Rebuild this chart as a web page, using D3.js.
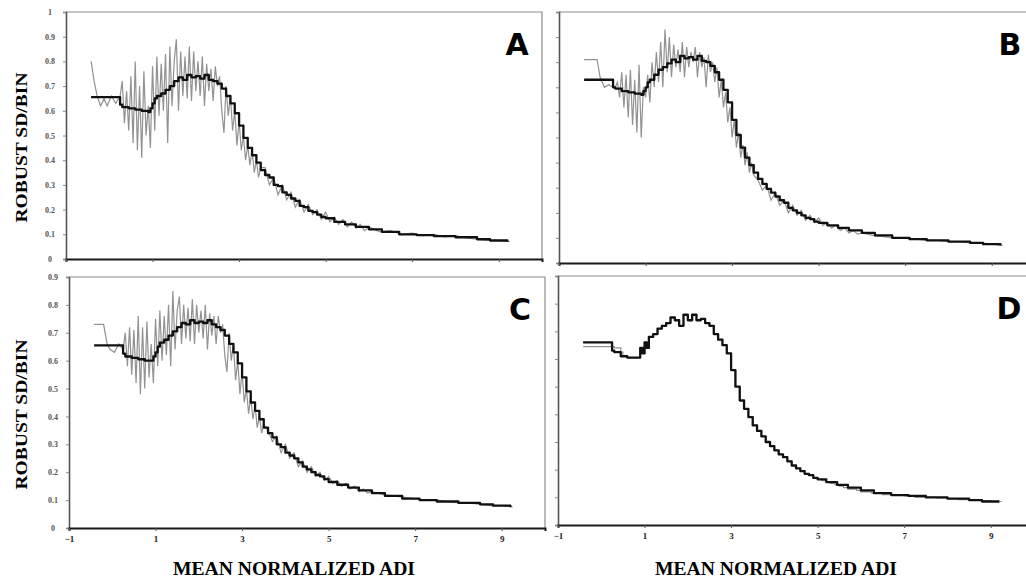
<!DOCTYPE html>
<html>
<head>
<meta charset="utf-8">
<script src="https://cdn.jsdelivr.net/npm/d3@7"></script>
<style>
  body { margin: 0; background: #fff; }
  svg { display: block; }
</style>
</head>
<body>
<div id="chart"></div>
<script>
// gray (raw) series x positions
const grayX = [-0.42, -0.35, -0.28, -0.2, -0.12, -0.05, 0.05, 0.15, 0.25,
  0.30, 0.35, 0.40, 0.45, 0.50, 0.55, 0.60, 0.65, 0.70, 0.75, 0.80, 0.85, 0.90, 0.95, 1.00,
  1.05, 1.10, 1.15, 1.20, 1.25, 1.30, 1.35, 1.40, 1.45, 1.50, 1.55, 1.60, 1.65, 1.70, 1.75,
  1.80, 1.85, 1.90, 1.95, 2.00, 2.05, 2.10, 2.15, 2.20, 2.25, 2.30, 2.35, 2.40, 2.45, 2.50,
  2.55, 2.60, 2.65, 2.70, 2.75, 2.80, 2.85, 2.90, 2.95, 3.00, 3.05, 3.10, 3.15, 3.20, 3.25,
  3.30, 3.35, 3.40, 3.45, 3.50,
  3.6, 3.7, 3.8, 3.9, 4.0, 4.1, 4.2, 4.3, 4.4, 4.5, 4.6, 4.7, 4.8, 4.9, 5.0,
  5.1, 5.2, 5.3, 5.4, 5.5, 5.6, 5.7, 5.8, 5.9, 6.0,
  6.25, 6.5, 6.75, 7.0, 7.25, 7.5, 7.75, 8.0, 8.25, 8.5, 8.75, 9.0, 9.25];

const grayA = [0.80, 0.72, 0.66, 0.62, 0.65, 0.62, 0.66, 0.63, 0.66,
  0.72, 0.55, 0.68, 0.52, 0.74, 0.47, 0.80, 0.44, 0.70, 0.41, 0.76, 0.50, 0.62, 0.45, 0.78,
  0.52, 0.82, 0.58, 0.79, 0.60, 0.83, 0.47, 0.86, 0.62, 0.80, 0.89, 0.60, 0.84, 0.66, 0.82,
  0.65, 0.86, 0.64, 0.84, 0.68, 0.80, 0.66, 0.82, 0.62, 0.79, 0.68, 0.77, 0.64, 0.78, 0.70,
  0.74, 0.60, 0.51, 0.70, 0.58, 0.66, 0.52, 0.60, 0.46, 0.56, 0.44, 0.50, 0.40, 0.46, 0.38,
  0.44, 0.35, 0.40, 0.33, 0.37,
  0.37, 0.30, 0.33, 0.26, 0.30, 0.24, 0.27, 0.21, 0.24, 0.19, 0.22, 0.18, 0.20, 0.16, 0.19,
  0.15, 0.17, 0.14, 0.16, 0.13, 0.15, 0.125, 0.14, 0.115, 0.13,
  0.11, 0.115, 0.10, 0.105, 0.095, 0.10, 0.09, 0.095, 0.085, 0.08, 0.075, 0.075, 0.07];

const grayB = [0.81, 0.81, 0.81, 0.81, 0.81, 0.74, 0.70, 0.71, 0.70,
  0.70, 0.72, 0.66, 0.76, 0.62, 0.75, 0.58, 0.77, 0.55, 0.73, 0.52, 0.79, 0.50, 0.70, 0.66,
  0.75, 0.64, 0.80, 0.70, 0.84, 0.72, 0.88, 0.70, 0.93, 0.76, 0.90, 0.74, 0.87, 0.78, 0.85,
  0.76, 0.88, 0.74, 0.86, 0.78, 0.84, 0.80, 0.86, 0.74, 0.84, 0.78, 0.82, 0.70, 0.83, 0.76,
  0.80, 0.72, 0.78, 0.66, 0.73, 0.62, 0.68, 0.56, 0.62, 0.50, 0.57, 0.46, 0.52, 0.42, 0.47,
  0.39, 0.44, 0.36, 0.40, 0.35,
  0.33, 0.29, 0.31, 0.25, 0.28, 0.23, 0.25, 0.20, 0.23, 0.19, 0.21, 0.17, 0.19, 0.16, 0.18,
  0.15, 0.16, 0.14, 0.15, 0.13, 0.14, 0.12, 0.13, 0.115, 0.12,
  0.11, 0.105, 0.10, 0.10, 0.095, 0.09, 0.09, 0.085, 0.085, 0.08, 0.08, 0.075, 0.07];

const grayC = [0.73, 0.73, 0.73, 0.73, 0.66, 0.64, 0.63, 0.66, 0.64,
  0.70, 0.58, 0.72, 0.55, 0.71, 0.52, 0.76, 0.48, 0.72, 0.50, 0.74, 0.54, 0.66, 0.52, 0.75,
  0.58, 0.78, 0.60, 0.76, 0.62, 0.80, 0.58, 0.85, 0.64, 0.78, 0.83, 0.66, 0.80, 0.68, 0.79,
  0.67, 0.82, 0.66, 0.80, 0.70, 0.78, 0.68, 0.80, 0.64, 0.77, 0.69, 0.76, 0.66, 0.76, 0.70,
  0.73, 0.62, 0.56, 0.70, 0.60, 0.66, 0.53, 0.60, 0.48, 0.56, 0.45, 0.50, 0.41, 0.47, 0.39,
  0.44, 0.36, 0.40, 0.34, 0.37,
  0.35, 0.31, 0.33, 0.27, 0.30, 0.25, 0.27, 0.22, 0.24, 0.20, 0.22, 0.185, 0.20, 0.17, 0.185,
  0.16, 0.17, 0.15, 0.16, 0.14, 0.15, 0.13, 0.14, 0.125, 0.13,
  0.12, 0.115, 0.11, 0.105, 0.10, 0.10, 0.095, 0.09, 0.09, 0.085, 0.08, 0.08, 0.075];

const grayD = [0.645, 0.645, 0.645, 0.645, 0.645, 0.645, 0.645, 0.645, 0.645,
  0.64, 0.64, 0.64, 0.625, 0.61, 0.61, 0.605, 0.605, 0.605, 0.605, 0.605, 0.605, 0.64, 0.62, 0.66,
  0.64, 0.68, 0.68, 0.69, 0.69, 0.71, 0.71, 0.72, 0.72, 0.73, 0.73, 0.75, 0.75, 0.74, 0.74,
  0.72, 0.72, 0.76, 0.76, 0.74, 0.74, 0.76, 0.76, 0.74, 0.74, 0.745, 0.745, 0.73, 0.73, 0.72,
  0.72, 0.69, 0.69, 0.67, 0.67, 0.65, 0.65, 0.62, 0.62, 0.56, 0.56, 0.50, 0.50, 0.45, 0.45,
  0.42, 0.42, 0.39, 0.39, 0.36,
  0.34, 0.32, 0.30, 0.285, 0.27, 0.255, 0.245, 0.23, 0.215, 0.205, 0.195, 0.185, 0.18, 0.17, 0.165,
  0.16, 0.155, 0.15, 0.145, 0.14, 0.135, 0.13, 0.13, 0.125, 0.12,
  0.115, 0.11, 0.108, 0.105, 0.10, 0.10, 0.098, 0.095, 0.092, 0.09, 0.088, 0.085, 0.085];

// smoothed (black) series, step after each x
const blackX = [-0.42, 0.25, 0.3, 0.45, 0.6, 0.75, 0.9, 0.95, 1.0, 1.05, 1.1, 1.2, 1.3, 1.4,
  1.5, 1.6, 1.7, 1.8, 1.9, 2.0, 2.1, 2.2, 2.3, 2.4, 2.5, 2.6, 2.7, 2.8, 2.9, 3.0, 3.1, 3.2,
  3.3, 3.4, 3.5, 3.6, 3.7, 3.8, 3.9, 4.0, 4.1, 4.2, 4.3, 4.4, 4.5, 4.6, 4.7, 4.8, 4.9, 5.0,
  5.2, 5.45, 5.7, 6.0, 6.3, 6.7, 7.1, 7.5, 8.0, 8.5, 8.8, 9.2];

const blackA = [0.655, 0.625, 0.615, 0.61, 0.605, 0.60, 0.595, 0.61, 0.63, 0.65, 0.66, 0.67,
  0.685, 0.70, 0.72, 0.735, 0.725, 0.745, 0.735, 0.74, 0.73, 0.745, 0.725, 0.72, 0.71, 0.69,
  0.66, 0.63, 0.59, 0.54, 0.49, 0.45, 0.42, 0.39, 0.36,
  0.34, 0.33, 0.30, 0.295, 0.27, 0.26, 0.245, 0.235, 0.215, 0.21, 0.195, 0.19, 0.18, 0.17, 0.165,
  0.15, 0.14, 0.13, 0.12, 0.11, 0.10, 0.097, 0.093, 0.088, 0.08, 0.075, 0.07];

const blackB = [0.73, 0.70, 0.695, 0.685, 0.68, 0.675, 0.67, 0.685, 0.70, 0.72, 0.73, 0.75,
  0.77, 0.78, 0.795, 0.81, 0.80, 0.825, 0.815, 0.82, 0.81, 0.825, 0.805, 0.80, 0.785, 0.76,
  0.73, 0.69, 0.64, 0.57, 0.51, 0.46, 0.42, 0.39, 0.36,
  0.335, 0.315, 0.295, 0.28, 0.265, 0.25, 0.24, 0.22, 0.21, 0.20, 0.19, 0.18, 0.175, 0.165, 0.16,
  0.15, 0.14, 0.13, 0.12, 0.11, 0.10, 0.095, 0.09, 0.085, 0.08, 0.075, 0.07];

const blackC = [0.655, 0.625, 0.615, 0.61, 0.605, 0.60, 0.60, 0.615, 0.63, 0.65, 0.665, 0.675,
  0.69, 0.705, 0.72, 0.735, 0.73, 0.745, 0.735, 0.74, 0.735, 0.745, 0.73, 0.72, 0.71, 0.69,
  0.66, 0.63, 0.59, 0.54, 0.49, 0.45, 0.42, 0.39, 0.36,
  0.34, 0.325, 0.30, 0.29, 0.27, 0.26, 0.25, 0.235, 0.22, 0.21, 0.20, 0.19, 0.185, 0.175, 0.165,
  0.155, 0.145, 0.135, 0.125, 0.115, 0.105, 0.10, 0.095, 0.09, 0.085, 0.08, 0.075];

const blackD = [0.66, 0.63, 0.625, 0.61, 0.605, 0.605, 0.64, 0.62, 0.66, 0.64, 0.68, 0.69,
  0.71, 0.72, 0.73, 0.75, 0.74, 0.72, 0.76, 0.74, 0.76, 0.74, 0.745, 0.73, 0.72, 0.69,
  0.67, 0.65, 0.62, 0.56, 0.50, 0.45, 0.42, 0.39, 0.36,
  0.34, 0.32, 0.30, 0.285, 0.27, 0.255, 0.245, 0.23, 0.215, 0.205, 0.195, 0.185, 0.18, 0.17, 0.165,
  0.155, 0.145, 0.135, 0.125, 0.115, 0.108, 0.105, 0.10, 0.095, 0.09, 0.085, 0.085];

const xTicks = [-1, 1, 3, 5, 7, 9];
const yTicksA = [0, 0.1, 0.2, 0.3, 0.4, 0.5, 0.6, 0.7, 0.8, 0.9, 1];
const yTicksC = [0, 0.1, 0.2, 0.3, 0.4, 0.5, 0.6, 0.7, 0.8, 0.9];
const yTitle = "ROBUST SD/BIN";
const xTitle = "MEAN NORMALIZED ADI";

const W = 1026, H = 578;

const panels = [
  { name: "A", left: 66, right: 542, top: 12, bottom: 259, ymax: 1, yTicks: yTicksA, gray: grayA, black: blackA, grayStep: false, yLab: true, xLab: false },
  { name: "B", left: 559, right: 1035, top: 12, bottom: 263, ymax: 1, yTicks: yTicksA, gray: grayB, black: blackB, grayStep: false, yLab: false, xLab: false },
  { name: "C", left: 69, right: 545, top: 277, bottom: 528, ymax: 0.9, yTicks: yTicksC, gray: grayC, black: blackC, grayStep: false, yLab: true, xLab: true, titleX: 294 },
  { name: "D", left: 558, right: 1034, top: 276, bottom: 525, ymax: 0.9, yTicks: yTicksC, gray: grayD, black: blackD, grayStep: true, yLab: false, xLab: true, titleX: 776 }
];

const svg = d3.select("#chart").append("svg")
  .attr("width", W)
  .attr("height", H);

panels.forEach(function (p) {
  const x = d3.scaleLinear().domain([-1, 10]).range([p.left, p.right]);
  const y = d3.scaleLinear().domain([0, p.ymax]).range([p.bottom, p.top]);

  const g = svg.append("g").attr("class", "panel panel-" + p.name);

  // frame top / right (gray)
  g.append("path")
    .attr("d", "M" + p.left + "," + p.top + "H" + p.right + "V" + p.bottom)
    .attr("fill", "none")
    .attr("stroke", "#8c8c8c")
    .attr("stroke-width", 1.2);

  // y axis
  const yAxis = d3.axisLeft(y)
    .tickValues(p.yTicks)
    .tickSize(3)
    .tickPadding(8)
    .tickFormat(p.yLab ? d3.format("~g") : function () { return ""; });
  const ya = g.append("g")
    .attr("transform", "translate(" + p.left + ",0)")
    .call(yAxis);
  ya.select(".domain").attr("stroke", "#555").attr("stroke-width", 1.6);
  ya.selectAll(".tick line").attr("stroke", "#888");
  ya.selectAll(".tick text")
    .attr("font-size", 8)
    .attr("font-family", "'Liberation Serif', serif")
    .attr("font-weight", "bold")
    .attr("fill", "#555")
    .attr("text-anchor", "middle")
    .attr("x", -16);

  // x axis
  const xAxis = d3.axisBottom(x)
    .tickValues(xTicks)
    .tickSize(3)
    .tickPadding(5)
    .tickFormat(p.xLab ? d3.format("d") : function () { return ""; });
  const xa = g.append("g")
    .attr("transform", "translate(0," + p.bottom + ")")
    .call(xAxis);
  xa.select(".domain").attr("stroke", "#1a1a1a").attr("stroke-width", 2);
  xa.selectAll(".tick line").attr("stroke", "#555");
  xa.selectAll(".tick text")
    .attr("font-size", 9)
    .attr("font-family", "'Liberation Serif', serif")
    .attr("font-weight", "bold")
    .attr("fill", "#222");

  // raw series
  const grayLine = d3.line()
    .curve(p.grayStep ? d3.curveStepAfter : d3.curveLinear)
    .x(function (d, i) { return x(grayX[i]); })
    .y(function (d) { return y(d); });
  g.append("path")
    .datum(p.gray)
    .attr("fill", "none")
    .attr("stroke", "#929292")
    .attr("stroke-width", 1.2)
    .attr("d", grayLine);

  // smoothed series
  const blackLine = d3.line()
    .curve(d3.curveStepAfter)
    .x(function (d, i) { return x(blackX[i]); })
    .y(function (d) { return y(d); });
  g.append("path")
    .datum(p.black)
    .attr("fill", "none")
    .attr("stroke", "#111")
    .attr("stroke-width", 2.3)
    .attr("stroke-linejoin", "round")
    .attr("d", blackLine);

  // panel letter
  g.append("text")
    .attr("x", p.left + 451)
    .attr("y", p.top + 43)
    .attr("text-anchor", "middle")
    .style("font-family", "'DejaVu Sans', sans-serif")
    .style("font-weight", "bold")
    .style("font-size", "30px")
    .text(p.name);

  if (p.yLab) {
    svg.append("text")
      .attr("transform", "translate(21," + (p.top + (p.bottom - p.top) / 2 + 12) + ") rotate(-90)")
      .attr("text-anchor", "middle")
      .attr("dy", "0.35em")
      .attr("textLength", 150)
      .attr("lengthAdjust", "spacingAndGlyphs")
      .style("font-family", "'Liberation Serif', serif")
      .style("font-weight", "bold")
      .style("font-size", "17px")
      .text(yTitle);
  }
  if (p.xLab) {
    svg.append("text")
      .attr("x", p.titleX)
      .attr("y", 575)
      .attr("text-anchor", "middle")
      .attr("textLength", 242)
      .attr("lengthAdjust", "spacingAndGlyphs")
      .style("font-family", "'Liberation Serif', serif")
      .style("font-weight", "bold")
      .style("font-size", "18px")
      .text(xTitle);
  }
});
</script>
</body>
</html>
